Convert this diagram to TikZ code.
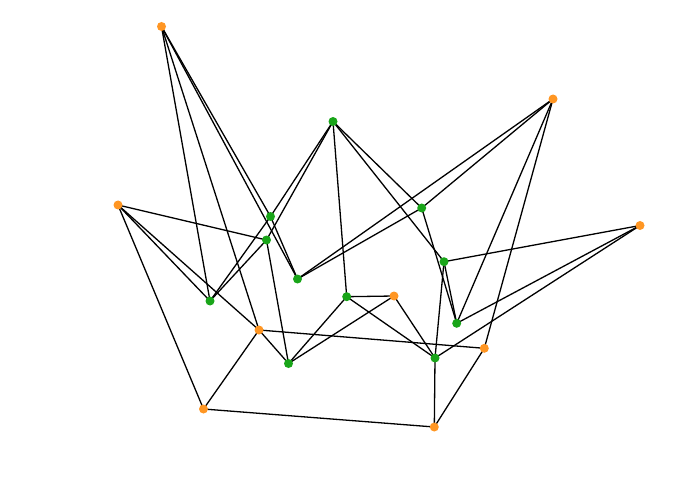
\documentclass[tikz,border=0pt]{standalone}
\usetikzlibrary{positioning,calc}
\usepackage{xcolor}
\definecolor{vorange}{RGB}{255,150,35}
\definecolor{vgreen}{RGB}{25,165,25}

\begin{document}
\begin{tikzpicture}[x=1pt,y=-1pt,line width=1.3pt] % pixel-like units, y pointing down
\useasboundingbox (0,0) rectangle (695,494);

% Orange vertices
\foreach \i/\x/\y in {1/161.5/26.5, 2/553/99, 3/118/205, 4/640/225.5, 5/394/296,
                      6/259/330, 7/484.3/348.3, 8/203.5/409, 9/434.3/427} {
  \coordinate (O\i) at (\x,\y);
}

% Green vertices
\foreach \i/\x/\y in {1/333/121.5, 2/421.7/208, 3/270.5/216.5, 4/266.5/240, 5/444/261.7,
                      6/297.5/279, 7/210/301, 8/346.7/296.7, 9/456.7/323.3,
                      10/288.5/363.5, 11/435/358} {
  \coordinate (G\i) at (\x,\y);
}

% Edges
\foreach \a/\b in {O1/G7, O1/O6, O1/G3, O1/G6, O2/G6, O2/G2, G2/G6, O2/G9, O2/O7,
                   O3/G4, O3/G7, O3/O6, O3/O8, O4/G5, O4/G9, O4/G11,
                   O5/G8, O5/G10, O5/G11, O6/O8, O6/G10, O6/O7, O7/O9, O8/O9, O9/G11,
                   G4/G10, G8/G10, G8/G11, G5/G11, G1/G8, G1/G2, G1/G5, G2/G9, G5/G9,
                   G1/G3, G3/G7, G1/G4, G4/G7, G3/G6} {
  \draw (\a) -- (\b);
}

% Vertices drawn on top of the edges
\foreach \i in {1,...,9} {
  \fill[vorange] (O\i) circle (4.5);
}
\foreach \i in {1,...,11} {
  \fill[vgreen] (G\i) circle (4.5);
}
\end{tikzpicture}
\end{document}
